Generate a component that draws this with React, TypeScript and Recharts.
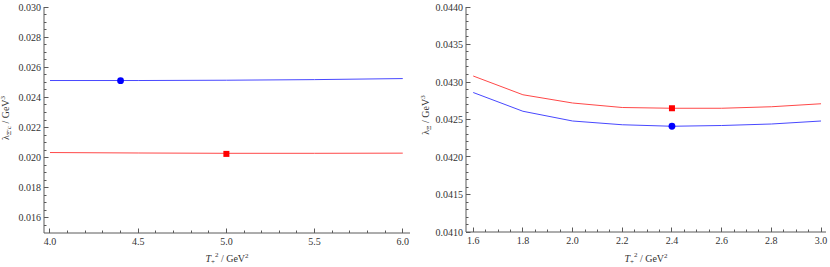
import React from 'react';
import { ComposedChart, Line, Scatter, XAxis, YAxis } from 'recharts';

// left panel: lambda_Xi_c' vs T+^2
const leftX = [4.0, 4.5, 5.0, 5.5, 6.0];
const leftBlue = [0.02512, 0.02512, 0.02514, 0.02518, 0.02525];
const leftRed = [0.02034, 0.02031, 0.02029, 0.02029, 0.0203];
const leftBlueDot = { x: 4.4, y: 0.02511 };
const leftRedSquare = { x: 5.0, y: 0.02025 };
const leftXMajor = [4.0, 4.5, 5.0, 5.5, 6.0];
const leftYMajor = [0.016, 0.018, 0.02, 0.022, 0.024, 0.026, 0.028, 0.03];

// right panel: lambda_Xi vs T+^2
const rightX = [1.6, 1.8, 2.0, 2.2, 2.4, 2.6, 2.8, 3.0];
const rightRed = [0.04308, 0.04283, 0.04272, 0.04266, 0.04265, 0.04265, 0.04267, 0.04271];
const rightBlue = [0.04286, 0.04261, 0.04248, 0.04243, 0.04241, 0.04242, 0.04244, 0.04248];
const rightBlueDot = { x: 2.4, y: 0.04241 };
const rightRedSquare = { x: 2.4, y: 0.04265 };
const rightXMajor = [1.6, 1.8, 2.0, 2.2, 2.4, 2.6, 2.8, 3.0];
const rightYMajor = [0.041, 0.0415, 0.042, 0.0425, 0.043, 0.0435, 0.044];

const FRAME = '#5a5a5a';
const TEXT = '#333';
const FONT = "'Liberation Serif', 'Times New Roman', serif";
const txt = { fontFamily: FONT, fontSize: 10, fill: TEXT };

const steps = (from: number, to: number, step: number) => {
  const out: number[] = [];
  const n = Math.round((to - from) / step);
  for (let i = 0; i <= n; i++) out.push(+(from + i * step).toFixed(6));
  return out;
};

const isMajor = (v: number, majors: number[]) => majors.some(m => Math.abs(m - v) < 1e-9);
const crisp = (v: number) => Math.round(v - 0.5) + 0.5;

const makeTick = (side: 'bottom' | 'top' | 'left' | 'right', majors: number[], digits: number, labels: boolean) =>
  (props: any) => {
    const { x, y, payload } = props;
    const big = isMajor(payload.value, majors);
    const len = big ? 4.5 : 2.5;
    const cx = crisp(x);
    const cy = crisp(y);
    let line;
    if (side === 'bottom') line = <line x1={cx} x2={cx} y1={y} y2={y - len} stroke={FRAME} strokeWidth={1} />;
    else if (side === 'top') line = <line x1={cx} x2={cx} y1={y} y2={y + len} stroke={FRAME} strokeWidth={1} />;
    else if (side === 'left') line = <line x1={x} x2={x + len} y1={cy} y2={cy} stroke={FRAME} strokeWidth={1} />;
    else line = <line x1={x} x2={x - len} y1={cy} y2={cy} stroke={FRAME} strokeWidth={1} />;
    return (
      <g>
        {line}
        {labels && big && side === 'bottom' && (
          <text x={x} y={y + 12} textAnchor="middle" style={txt}>
            {payload.value.toFixed(digits)}
          </text>
        )}
        {labels && big && side === 'left' && (
          <text x={x - 3} y={y + 3.5} textAnchor="end" style={txt}>
            {payload.value.toFixed(digits)}
          </text>
        )}
      </g>
    );
  };

const XTitle = ({ cx }: { cx: number }) => (
  <text x={cx} y={262} textAnchor="middle" style={txt}>
    <tspan fontStyle="italic">T</tspan>
    <tspan fontSize={7} dy={2}>+</tspan>
    <tspan fontSize={7} dy={-7}>2</tspan>
    <tspan dy={5}> / GeV</tspan>
    <tspan fontSize={7} dy={-4}>2</tspan>
  </text>
);

const YTitle = ({ x, y, sub }: { x: number; y: number; sub: string }) => (
  <text x={x} y={y} transform={`rotate(-90 ${x} ${y})`} textAnchor="middle" style={txt}>
    <tspan>λ</tspan>
    <tspan fontSize={7} dy={2}>{sub}</tspan>
    <tspan dy={-2}> / GeV</tspan>
    <tspan fontSize={7} dy={-4}>3</tspan>
  </text>
);

const circle = (p: any) => <circle cx={p.cx} cy={p.cy} r={3.4} fill="#0000ff" />;
const square = (p: any) => <rect x={p.cx - 3} y={p.cy - 3} width={6} height={6} fill="#ff0000" />;

interface PanelProps {
  xs: number[];
  blue: number[];
  red: number[];
  dot: { x: number; y: number };
  sq: { x: number; y: number };
  xDomain: [number, number];
  yDomain: [number, number];
  xTicks: number[];
  yTicks: number[];
  xMajor: number[];
  yMajor: number[];
  xDigits: number;
  yDigits: number;
  yAxisWidth: number;
  rightMargin: number;
  xAxisHeight: number;
  sub: string;
  titleX: number;
  titleY: number;
}

const Panel: React.FC<PanelProps> = p => {
  const blueData = p.xs.map((x, i) => ({ x, v: p.blue[i] }));
  const redData = p.xs.map((x, i) => ({ x, v: p.red[i] }));
  const plotLeft = p.yAxisWidth;
  const plotRight = 415 - p.rightMargin;
  return (
    <ComposedChart width={415} height={267} margin={{ top: 7, right: p.rightMargin, bottom: 0, left: 0 }}>
      <XAxis
        xAxisId="b"
        dataKey="x"
        type="number"
        domain={p.xDomain}
        allowDataOverflow
        ticks={p.xTicks}
        interval={0}
        height={p.xAxisHeight}
        tickSize={0}
        tickMargin={0}
        tickLine={false}
        axisLine={{ stroke: FRAME }}
        tick={makeTick('bottom', p.xMajor, p.xDigits, true)}
        label={{ content: () => <XTitle cx={(plotLeft + plotRight) / 2} /> }}
      />
      <XAxis
        xAxisId="t"
        orientation="top"
        type="number"
        domain={p.xDomain}
        allowDataOverflow
        ticks={p.xTicks}
        interval={0}
        height={0}
        tickSize={0}
        tickMargin={0}
        tickLine={false}
        axisLine={{ stroke: FRAME }}
        tick={makeTick('top', p.xMajor, p.xDigits, false)}
      />
      <YAxis
        yAxisId="l"
        type="number"
        domain={p.yDomain}
        allowDataOverflow
        ticks={p.yTicks}
        interval={0}
        width={p.yAxisWidth}
        tickSize={0}
        tickMargin={0}
        tickLine={false}
        axisLine={{ stroke: FRAME }}
        tick={makeTick('left', p.yMajor, p.yDigits, true)}
        label={{ content: () => <YTitle x={p.titleX} y={p.titleY} sub={p.sub} /> }}
      />
      <YAxis
        yAxisId="r"
        orientation="right"
        type="number"
        domain={p.yDomain}
        allowDataOverflow
        ticks={p.yTicks}
        interval={0}
        width={0}
        tickSize={0}
        tickMargin={0}
        tickLine={false}
        axisLine={{ stroke: FRAME }}
        tick={makeTick('right', p.yMajor, p.yDigits, false)}
      />
      <Line xAxisId="b" yAxisId="l" data={redData} dataKey="v" type="linear" stroke="#ff4848" strokeWidth={1} dot={false} isAnimationActive={false} />
      <Line xAxisId="b" yAxisId="l" data={blueData} dataKey="v" type="linear" stroke="#4848ff" strokeWidth={1} dot={false} isAnimationActive={false} />
      <Scatter xAxisId="b" yAxisId="l" data={[{ x: p.sq.x, v: p.sq.y }]} dataKey="v" shape={square} isAnimationActive={false} />
      <Scatter xAxisId="b" yAxisId="l" data={[{ x: p.dot.x, v: p.dot.y }]} dataKey="v" shape={circle} isAnimationActive={false} />
    </ComposedChart>
  );
};

export default function App() {
  return (
    <div style={{ position: 'absolute', left: 0, top: 0, width: 830, height: 267, background: '#fff' }}>
      <div style={{ position: 'absolute', left: 0, top: 0 }}>
        <Panel
          xs={leftX}
          blue={leftBlue}
          red={leftRed}
          dot={leftBlueDot}
          sq={leftRedSquare}
          xDomain={[3.966, 6.041]}
          yDomain={[0.015, 0.03]}
          xTicks={steps(4.0, 6.0, 0.1)}
          yTicks={steps(0.0155, 0.03, 0.0005)}
          xMajor={leftXMajor}
          yMajor={leftYMajor}
          xDigits={1}
          yDigits={3}
          yAxisWidth={44}
          rightMargin={5}
          xAxisHeight={34}
          sub="Ξ′c"
          titleX={9}
          titleY={118}
        />
      </div>
      <div style={{ position: 'absolute', left: 415, top: 0 }}>
        <Panel
          xs={rightX}
          blue={rightBlue}
          red={rightRed}
          dot={rightBlueDot}
          sq={rightRedSquare}
          xDomain={[1.571, 3.02]}
          yDomain={[0.041, 0.044]}
          xTicks={steps(1.6, 3.0, 0.05)}
          yTicks={steps(0.041, 0.044, 0.0001)}
          xMajor={rightXMajor}
          yMajor={rightYMajor}
          xDigits={1}
          yDigits={4}
          yAxisWidth={51}
          rightMargin={4}
          xAxisHeight={35}
          sub="Ξ"
          titleX={14}
          titleY={115}
        />
      </div>
    </div>
  );
}
